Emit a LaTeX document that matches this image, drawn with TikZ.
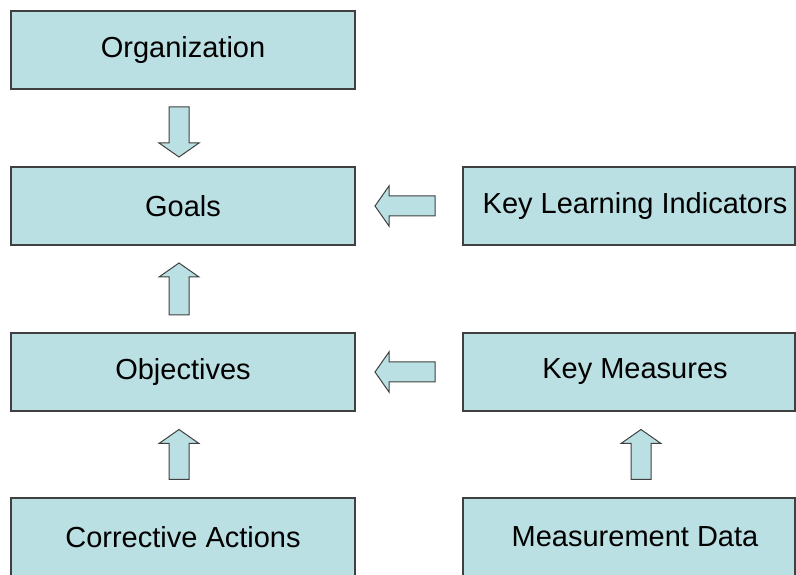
\documentclass[tikz,border=0pt]{standalone}
\usepackage{fontspec}
\setmainfont{Liberation Sans}
\usetikzlibrary{calc,positioning}
\definecolor{boxfill}{HTML}{BBE0E3}
\definecolor{boxline}{HTML}{404040}
\tikzset{box/.style={
                     % The shape:
                     rectangle,minimum width=344pt,minimum height=78pt,outer sep=0pt,
                     % The rest
                     draw=boxline,line width=1.5pt,fill=boxfill,
                     font=\fontsize{29}{35}\selectfont
                     },
         % narrower box, its text sits a little right of centre
         rbox/.style={minimum width=332pt,
                      label={[font=\fontsize{29}{35}\selectfont,xshift=6pt]center:#1}},
         pics/blockarrow/.style={code={
                     % pointing up, centred on the origin, #1 long
                     \draw[draw=boxline,line width=1pt,fill=boxfill,line join=miter]
                       (-10,-#1/2) -- (-10,#1/2-14) -- (-20,#1/2-14) -- (0,#1/2)
                       -- (20,#1/2-14) -- (10,#1/2-14) -- (10,-#1/2) -- cycle;
                     }}}

\begin{document}
\begin{tikzpicture}[x=1pt,y=1pt]
  \clip (0,0) rectangle (796,575);
  % Left column:
  \node (org) [box] at (183,525) {Organization};
  \node (goals) [box,below=78pt of org] {Goals};
  \node (obj) [box,below=88pt of goals] {Objectives};
  \node (corr) [box,below=87pt of obj] {Corrective Actions};
  % Right column:
  \node (kli) [box,rbox=Key Learning Indicators,right=108pt of goals] {};
  \node (km) [box,rbox=Key Measures,right=108pt of obj] {};
  \node (md) [box,rbox=Measurement Data,right=108pt of corr] {};

  % Block arrows between the boxes
  \pic [rotate=180] at ($(org.south)!.5!(goals.north)+(-4,-4)$) {blockarrow=50};
  \pic at ($(obj.north)!.5!(goals.south)+(-4,0)$) {blockarrow=52};
  \pic at ($(corr.north)!.5!(obj.south)+(-4,0)$) {blockarrow=50};
  \pic at ($(md.north)!.5!(km.south)+(12,0)$) {blockarrow=50};
  \pic [rotate=90] at ($(goals.east)!.5!(kli.west)+(-4,0)$) {blockarrow=60};
  \pic [rotate=90] at ($(obj.east)!.5!(km.west)+(-4,0)$) {blockarrow=60};
\end{tikzpicture}
\end{document}
